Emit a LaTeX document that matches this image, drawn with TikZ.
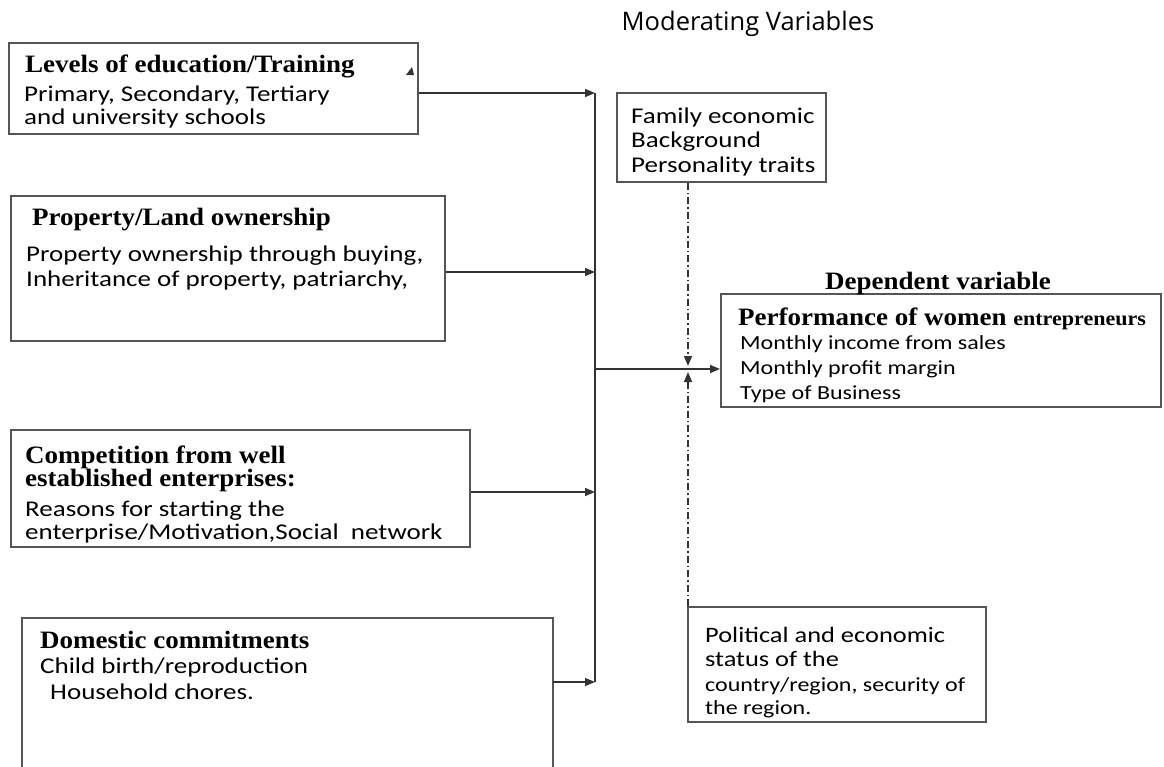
\documentclass[tikz,border=0pt]{standalone}
\usepackage{fontspec}
\setmainfont{Liberation Serif}[FakeStretch=1.08]
\newfontfamily\bodyf{Carlito}[FakeStretch=1.2]
\newfontfamily\modf{Open Sans}
\usetikzlibrary{arrows.meta}
\definecolor{lc}{HTML}{333333}
\definecolor{bc}{HTML}{555555}
\begin{document}
\begin{tikzpicture}[x=1pt,y=-1pt,
  box/.style={draw=bc,line width=1.6pt,rectangle,inner sep=0pt,anchor=north west},
  tx/.style={anchor=base west,inner sep=0pt,text=black},
  ttl/.style={tx,font=\fontsize{25}{25}\selectfont\bfseries},
  bd/.style={tx,font=\bodyf\fontsize{22.5}{22.5}\selectfont},
  conn/.style={draw=lc,line width=1.6pt},
  arr/.style={conn,-{Triangle[length=10pt,width=8pt]}},
  dd/.style={draw=lc,line width=1.5pt,dash pattern=on 7pt off 3pt on 1.5pt off 3pt},
  ddarr/.style={dd,-{Triangle[length=10pt,width=8pt]}}]
\useasboundingbox (0,0) rectangle (1164,766);

% boxes
\node[box,minimum width=409pt,minimum height=91pt] (edu) at (8,42) {};
\node[box,minimum width=434pt,minimum height=145pt] (prop) at (10,195) {};
\node[box,minimum width=459pt,minimum height=117pt] (comp) at (10,429) {};
\draw[draw=bc,line width=1.6pt] (22,770) -- (22,618) -- (553,618) -- (553,770);
\coordinate (domE) at (553,682);
\node[box,minimum width=209pt,minimum height=89pt] (mod) at (616,92) {};
\node[box,minimum width=440pt,minimum height=113pt] (dep) at (720,293) {};
\node[box,minimum width=298pt,minimum height=115pt] (pol) at (687,606) {};

% texts
\node[tx,font=\modf\fontsize{25.5}{25}\selectfont,anchor=center] (modt) at (748,24) {Moderating Variables};
\node[ttl] (edut) at (25,72) {Levels of education/Training};
\node[bd] (edu1) at (24,101) {Primary, Secondary, Tertiary};
\node[bd] (edu2) at (24,124) {and university schools};

\node[ttl] (propt) at (32,225) {Property/Land ownership};
\node[bd] (prop1) at (26,261) {Property ownership through buying,};
\node[bd] (prop2) at (26,286) {Inheritance of property, patriarchy,};

\node[ttl,anchor=north west,align=left,font=\fontsize{25}{22}\selectfont\bfseries] (compt) at (25,445.5) {Competition from well\\established enterprises:};
\node[bd] (comp1) at (25,516) {Reasons for starting the};
\node[bd] (comp2) at (25,539) {enterprise/Motivation,Social\ \ network};

\node[ttl] (domt) at (40,648) {Domestic commitments};
\node[bd] (dom1) at (40,673) {Child birth/reproduction};
\node[bd] (dom2) at (50,699) {Household chores.};

\node[bd] (mod1) at (631,123) {Family economic};
\node[bd] (mod2) at (631,147) {Background};
\node[bd] (mod3) at (631,172) {Personality traits};

\node[ttl,anchor=base] (dept) at (938,289) {Dependent variable};
\node[tx,font=\fontsize{25}{25}\selectfont\bfseries] (depti) at (738,325) {Performance of women {\fontsize{20.4}{20}\selectfont entrepreneurs}};
\node[bd,font=\bodyf\fontsize{20}{20}\selectfont] (dep1) at (740,349) {Monthly income from sales};
\node[bd,font=\bodyf\fontsize{20}{20}\selectfont] (dep2) at (740,374) {Monthly profit margin};
\node[bd,font=\bodyf\fontsize{20}{20}\selectfont] (dep3) at (740,399) {Type of Business};

\node[bd,font=\bodyf\fontsize{22}{22}\selectfont] (pol1) at (705,642) {Political and economic};
\node[bd,font=\bodyf\fontsize{22}{22}\selectfont] (pol2) at (705,666) {status of the};
\node[bd,font=\bodyf\fontsize{20}{20}\selectfont] (pol3) at (705,691) {country/region, security of};
\node[bd,font=\bodyf\fontsize{20}{20}\selectfont] (pol4) at (705,714) {the region.};

% bus and connectors
\coordinate (b1) at (595,93);
\coordinate (b2) at (595,272);
\coordinate (b3) at (595,492);
\coordinate (b4) at (595,682);
\coordinate (bm) at (595,369);
\draw[conn] (b1) -- (b4);
\draw[arr] (edu.east |- b1) -- (b1);
\draw[arr] (prop.east |- b2) -- (b2);
\draw[arr] (comp.east |- b3) -- (b3);
\draw[arr] (domE) -- (b4);
\draw[arr] (bm) -- (dep.west |- bm);

% moderating dash-dot arrows
\coordinate (mt) at (688,366);
\coordinate (mb) at (688,372);
\draw[ddarr] (mod.south -| mt) -- (mt);
\draw[ddarr] (pol.north west -| mb) -- (mb);

% small stray arrowhead on education box
\coordinate (sa) at (412,67);
\fill[lc] (sa) -- ++(-6,8) -- ++(8,0) -- cycle;
\end{tikzpicture}
\end{document}
